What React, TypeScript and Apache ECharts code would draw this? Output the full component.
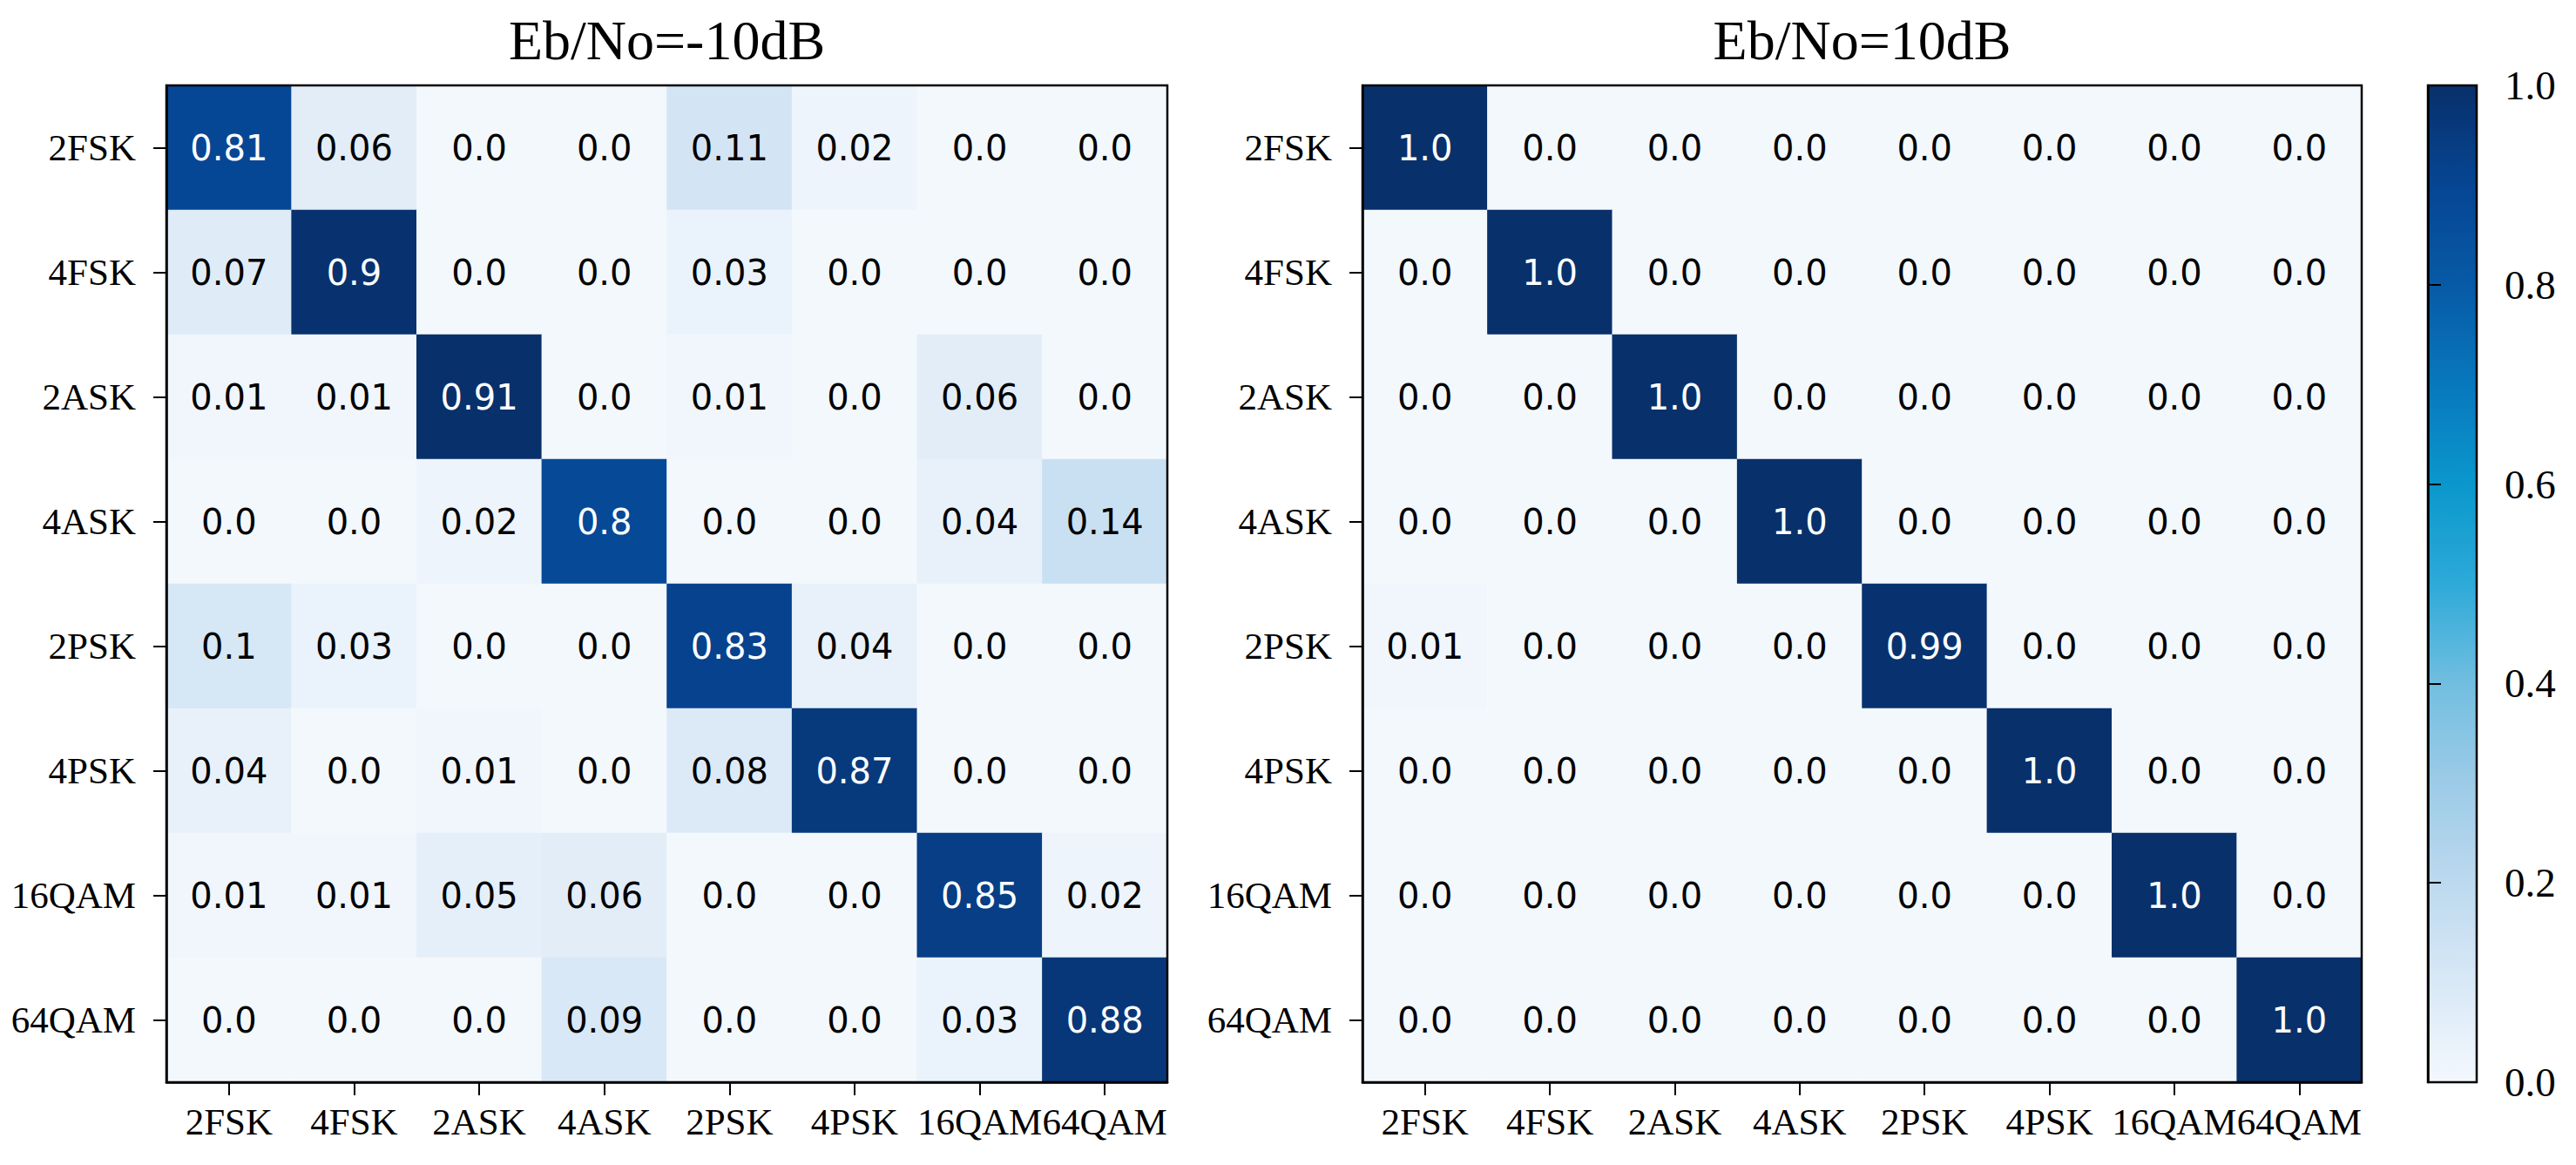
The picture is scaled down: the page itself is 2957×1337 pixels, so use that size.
import React, { useEffect, useRef } from "react";
import * as echarts from "echarts";

const classes = ["2FSK", "4FSK", "2ASK", "4ASK", "2PSK", "4PSK", "16QAM", "64QAM"];
const titleLow = "Eb/No=-10dB";
const titleHigh = "Eb/No=10dB";

// rows = true class, columns = predicted class
const lowSnr = [
  [0.81, 0.06, 0.0, 0.0, 0.11, 0.02, 0.0, 0.0],
  [0.07, 0.9, 0.0, 0.0, 0.03, 0.0, 0.0, 0.0],
  [0.01, 0.01, 0.91, 0.0, 0.01, 0.0, 0.06, 0.0],
  [0.0, 0.0, 0.02, 0.8, 0.0, 0.0, 0.04, 0.14],
  [0.1, 0.03, 0.0, 0.0, 0.83, 0.04, 0.0, 0.0],
  [0.04, 0.0, 0.01, 0.0, 0.08, 0.87, 0.0, 0.0],
  [0.01, 0.01, 0.05, 0.06, 0.0, 0.0, 0.85, 0.02],
  [0.0, 0.0, 0.0, 0.09, 0.0, 0.0, 0.03, 0.88],
];
const highSnr = [
  [1.0, 0.0, 0.0, 0.0, 0.0, 0.0, 0.0, 0.0],
  [0.0, 1.0, 0.0, 0.0, 0.0, 0.0, 0.0, 0.0],
  [0.0, 0.0, 1.0, 0.0, 0.0, 0.0, 0.0, 0.0],
  [0.0, 0.0, 0.0, 1.0, 0.0, 0.0, 0.0, 0.0],
  [0.01, 0.0, 0.0, 0.0, 0.99, 0.0, 0.0, 0.0],
  [0.0, 0.0, 0.0, 0.0, 0.0, 1.0, 0.0, 0.0],
  [0.0, 0.0, 0.0, 0.0, 0.0, 0.0, 1.0, 0.0],
  [0.0, 0.0, 0.0, 0.0, 0.0, 0.0, 0.0, 1.0],
];
const colorbarMin = 0;
const colorbarMax = 1;
const colorbarStep = 0.2;

const blues = [
  "#f3f8fd", "#d9e8f6", "#bcd9ef", "#9dcbe7", "#72bee0", "#2daad8",
  "#0a97cc", "#0878bd", "#075aa6", "#064593", "#08306b",
];

const SERIF = "Liberation Serif";
const SANS = "DejaVu Sans";
const TICK_SIZE = 43;

const fmt = (v: number) => {
  const s = String(v);
  return s.includes(".") ? s : s + ".0";
};

function toCells(m: number[][]) {
  const max = Math.max(...m.flat());
  const thresh = max / 2;
  const out: any[] = [];
  m.forEach((row, r) =>
    row.forEach((v, c) => {
      out.push({ value: [c, r, v], label: { color: v > thresh ? "#ffffff" : "#000000" } });
    })
  );
  return out;
}

const grids = [
  { left: 191, top: 98, width: 1149, height: 1144 },
  { left: 1564, top: 98, width: 1147, height: 1144 },
];
const cbar = { left: 2787, top: 98, width: 56, height: 1144 };

export default function App() {
  const ref = useRef<HTMLDivElement>(null);
  useEffect(() => {
    if (!ref.current) return;
    const chart = echarts.init(ref.current, null, { renderer: "svg" });
    const axisLine = { show: true, lineStyle: { color: "#000", width: 2.5 } };
    const axisTick = { show: true, inside: false, length: 15, alignWithLabel: true, lineStyle: { color: "#000", width: 2 } };
    const xAxes: any[] = grids.map((_, i) => ({
      type: "category",
      gridIndex: i,
      data: classes,
      position: "bottom",
      axisLine,
      axisTick,
      axisLabel: { interval: 0, margin: 24, fontFamily: SERIF, fontSize: TICK_SIZE, color: "#000" },
      splitLine: { show: false },
      z: 10,
    }));
    const yAxes: any[] = grids.map((_, i) => ({
      type: "category",
      gridIndex: i,
      data: classes,
      inverse: true,
      position: "left",
      axisLine,
      axisTick,
      axisLabel: { interval: 0, margin: 35, fontFamily: SERIF, fontSize: TICK_SIZE, color: "#000" },
      splitLine: { show: false },
      z: 10,
    }));
    xAxes.push({ type: "value", gridIndex: 2, show: false, min: 0, max: 1 });
    yAxes.push({
      type: "value",
      gridIndex: 2,
      position: "right",
      min: colorbarMin,
      max: colorbarMax,
      interval: colorbarStep,
      axisLine,
      axisTick: { show: true, inside: false, length: 15, lineStyle: { color: "#000", width: 2 } },
      axisLabel: {
        margin: 32,
        fontFamily: SERIF,
        fontSize: 47,
        color: "#000",
        formatter: (v: number) => v.toFixed(1),
      },
      splitLine: { show: false },
      z: 10,
    });

    const labelCfg = {
      show: true,
      fontFamily: SANS,
      fontSize: 40,
      formatter: (p: any) => fmt(p.value[2]),
    };

    chart.setOption({
      animation: false,
      backgroundColor: "#ffffff",
      grid: [
        ...grids.map((g) => ({ ...g, show: true, borderColor: "#000", borderWidth: 2.5, backgroundColor: "transparent", z: 10 })),
        { ...cbar, show: true, borderColor: "#000", borderWidth: 2.5, backgroundColor: "transparent", z: 10 },
      ],
      xAxis: xAxes,
      yAxis: yAxes,
      visualMap: [
        {
          type: "continuous",
          show: false,
          seriesIndex: 0,
          dimension: 2,
          min: 0,
          max: Math.max(...lowSnr.flat()),
          inRange: { color: blues },
        },
        {
          type: "continuous",
          show: true,
          seriesIndex: 1,
          dimension: 2,
          min: colorbarMin,
          max: colorbarMax,
          calculable: false,
          hoverLink: false,
          orient: "vertical",
          left: cbar.left,
          top: cbar.top,
          itemWidth: cbar.width,
          itemHeight: cbar.height,
          padding: 0,
          inRange: { color: blues },
        },
      ],
      graphic: [
        {
          type: "text",
          x: (grids[0].left + grids[0].left + grids[0].width) / 2,
          y: 46,
          style: { text: titleLow, font: `64px "${SERIF}"`, fill: "#000", textAlign: "center", textVerticalAlign: "middle" },
        },
        {
          type: "text",
          x: (grids[1].left + grids[1].left + grids[1].width) / 2,
          y: 46,
          style: { text: titleHigh, font: `64px "${SERIF}"`, fill: "#000", textAlign: "center", textVerticalAlign: "middle" },
        },
      ],
      series: [
        {
          type: "heatmap",
          xAxisIndex: 0,
          yAxisIndex: 0,
          data: toCells(lowSnr),
          label: labelCfg,
          emphasis: { disabled: true },
        },
        {
          type: "heatmap",
          xAxisIndex: 1,
          yAxisIndex: 1,
          data: toCells(highSnr),
          label: labelCfg,
          emphasis: { disabled: true },
        },
      ],
    });
    return () => chart.dispose();
  }, []);
  return (
    <div
      ref={ref}
      style={{ position: "fixed", left: 0, top: 0, width: 2957, height: 1337, background: "#fff" }}
    />
  );
}
